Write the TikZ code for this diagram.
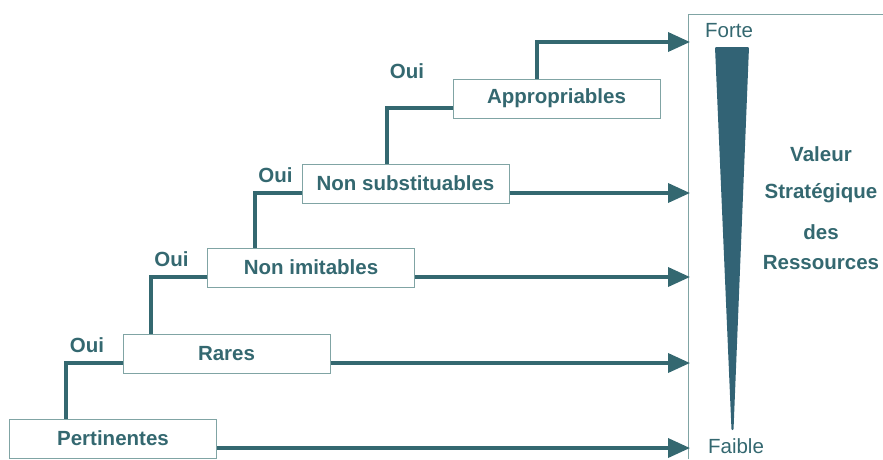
\documentclass[tikz,border=0pt]{standalone}
\usepackage{fontspec}
\setmainfont{Liberation Sans}
\usepackage{tikz}
\usetikzlibrary{arrows.meta}
\definecolor{flowColor}{RGB}{52,104,112}
\definecolor{wedgeColor}{RGB}{50,99,117}
\definecolor{frameColor}{RGB}{128,164,164}
\tikzstyle{diagram} = [x = 1pt, y = -1pt]
\tikzstyle{critereBox} = [draw=frameColor, line width=1pt, fill=white, minimum width=207pt, minimum height=39pt, inner sep=0pt, font=\fontsize{20.5}{24}\selectfont\bfseries, text=flowColor]
\tikzstyle{flowLine} = [color=flowColor, line width=3.6pt]
\tikzstyle{flowArrow} = [flowLine, -{Triangle[length=22pt, width=19pt]}]
\tikzstyle{ouiText} = [font=\fontsize{20.5}{24}\selectfont\bfseries, text=flowColor]
\tikzstyle{valeurText} = [font=\fontsize{20.5}{24}\selectfont\bfseries, text=flowColor, align=center]
\tikzstyle{scaleText} = [font=\fontsize{20.5}{24}\selectfont, text=flowColor]
\newcommand{\lineShift}{9.5pt}

\begin{document}
\begin{tikzpicture}[diagram]
  \useasboundingbox (0,0) rectangle (883,459);
  % panel on the right
  \draw [frameColor, line width=1pt] (688,459) -- (688,14) -- (883,14);
  \coordinate (tipAppro) at (690,42);
  \coordinate (tipSubst) at (690,193);
  \coordinate (tipImit) at (690,277);
  \coordinate (tipRares) at (690,363);
  \coordinate (tipPert) at (690,448);
  \fill [wedgeColor, rounded corners=1pt] (715,47) -- (749,47) -- (733.5,430) -- (731.5,430) -- cycle;
  \node [scaleText] (forte) at (729,31) {Forte};
  \node [scaleText] (faible) at (736,446) {Faible};
  \node [valeurText] (valeur) at (821,154) {Valeur};
  \node [valeurText] (strategique) at (821,193) {Stratégique};
  \node [valeurText] (des) at (821,232) {des};
  \node [valeurText] (ressources) at (821,263) {Ressources};

  % criteria
  \node [critereBox] (pert) at (113,438.5) {Pertinentes};
  \node [critereBox] (rares) at (226.5,353.5) {Rares};
  \node [critereBox] (imit) at (311,267.5) {Non imitables};
  \node [critereBox] (subst) at (405.5,183.5) {Non substituables};
  \node [critereBox] (appro) at (556.5,98.5) {Appropriables};

  % oui branches
  \draw [flowLine] (pert.north -| 66,0) |- ([yshift=-\lineShift]rares.west);
  \draw [flowLine] (rares.north -| 151,0) |- ([yshift=-\lineShift]imit.west);
  \draw [flowLine] (imit.north -| 255,0) |- ([yshift=-\lineShift]subst.west);
  \draw [flowLine] (subst.north -| 387,0) |- ([yshift=-\lineShift]appro.west);
  \node [ouiText] (oui1) at (87,345) {Oui};
  \node [ouiText] (oui2) at (171.5,259.5) {Oui};
  \node [ouiText] (oui3) at (275.5,175) {Oui};
  \node [ouiText] (oui4) at (407,71) {Oui};

  % arrows to the scale
  \draw [flowArrow] ([yshift=-\lineShift]pert.east) -- (tipPert);
  \draw [flowArrow] ([yshift=-\lineShift]rares.east) -- (tipRares);
  \draw [flowArrow] ([yshift=-\lineShift]imit.east) -- (tipImit);
  \draw [flowArrow] ([yshift=-\lineShift]subst.east) -- (tipSubst);
  \draw [flowArrow] (appro.north -| 537,0) |- (tipAppro);
\end{tikzpicture}
\end{document}
